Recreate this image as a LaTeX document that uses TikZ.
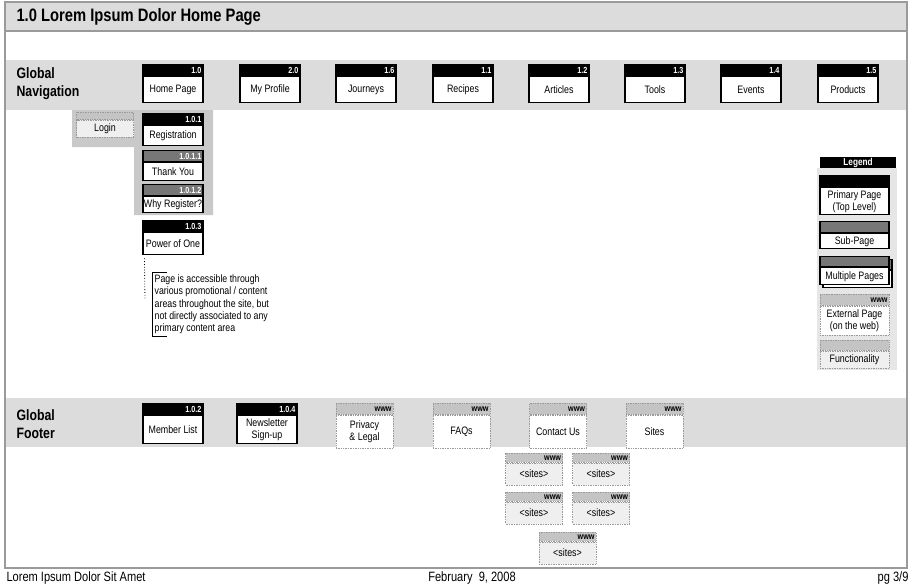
\documentclass[tikz,border=0pt]{standalone}
\usepackage{fontspec}
\setmainfont{Liberation Sans}[FakeStretch=0.82]

\definecolor{bandgray}{HTML}{DCDCDC}
\definecolor{framegray}{HTML}{9A9A9A}
\definecolor{grpgray}{HTML}{C9C9C9}
\definecolor{subgray}{HTML}{777777}
\definecolor{wwwgray}{HTML}{C4C4C4}
\definecolor{softgray}{HTML}{EFEFEF}
\definecolor{lgndgray}{HTML}{E6E6E6}

\tikzset{
  hd/.style={rectangle, inner sep=0pt, minimum width=60pt, text width=57pt, align=right,
    minimum height=11pt, font=\bfseries\fontsize{8.8}{9}\selectfont, text=white},
  bd/.style={rectangle, draw, line width=1.2pt, fill=white, inner sep=0pt, minimum width=60pt,
    align=center, font=\fontsize{10.8}{12}\selectfont},
  prim/.style={fill=black, draw=black, line width=1.2pt},
  sub/.style={fill=subgray, draw=black, line width=1.2pt},
  web/.style={fill=wwwgray, draw=framegray, line width=0.7pt, densely dotted, text=black,
    minimum width=57pt, text width=54pt},
  webbd/.style={draw=framegray, line width=0.7pt, densely dotted, minimum width=57pt},
  sect/.style={anchor=west, align=left, font=\bfseries\fontsize{15}{18}\selectfont},
  foot/.style={font=\fontsize{13.5}{15}\selectfont},
}

% page box: name, top centre, header style, number, body style, text
\newcommand{\pg}[6]{%
  \node[hd, #3, anchor=north] (#1h) at (#2) {#4};
  \node[bd, #5, anchor=north] (#1) at (#1h.south) {#6};}

\begin{document}
\begin{tikzpicture}[x=1pt, y=-1pt]
  \useasboundingbox (0,0) rectangle (913,587);

  % frame, title and bands
  \fill[bandgray] (5,2) rectangle (907,31);
  \fill[bandgray] (6,60) rectangle (906,110);
  \fill[bandgray] (6,398) rectangle (906,447);
  \draw[framegray, line width=2pt] (5,2) rectangle (907,568);
  \draw[framegray, line width=2pt] (5,31) -- (907,31);
  \node[anchor=west, font=\bfseries\fontsize{18}{20}\selectfont] (title) at (13,17) {1.0 Lorem Ipsum Dolor Home Page};

  % global navigation
  \node[sect] (gnav) at (13,84) {Global\\Navigation};
  \foreach \x/\num/\txt/\nm in {173/1.0/Home Page/home, 270/2.0/My Profile/profile,
      366/1.6/Journeys/journeys, 463/1.1/Recipes/recipes, 559/1.2/Articles/articles,
      655/1.3/Tools/tools, 751/1.4/Events/events, 848/1.5/Products/products}
    \pg{\nm}{\x,64}{prim}{\num}{minimum height=26pt}{\txt};

  % login / registration group
  \fill[grpgray] (72,110) -- (213,110) -- (213,215) -- (134,215) -- (134,147) -- (72,147) -- cycle;
  \pg{login}{105,112}{web, minimum height=7pt}{}{webbd, fill=softgray, minimum height=17pt}{Login};
  \pg{reg}{173,113}{prim}{1.0.1}{minimum height=20pt}{Registration};
  \pg{thanks}{173,150}{sub}{1.0.1.1}{minimum height=18pt}{Thank You};
  \pg{why}{173,184}{sub}{1.0.1.2}{minimum height=16pt}{Why Register?};
  \pg{pone}{173,220}{prim}{1.0.3}{minimum height=22pt}{Power of One};

  % note on power of one
  \node[anchor=north west, align=left, inner sep=2.5pt, font=\fontsize{10.7}{12.3}\selectfont] (note) at (152,272)
    {Page is accessible through\\various promotional / content\\areas throughout the site, but\\not directly associated to any\\primary content area};
  \draw[line width=0.8pt] ([xshift=15pt]note.north west) -- (note.north west) -- (note.south west) -- ([xshift=15pt]note.south west);
  \coordinate (notept) at (145,300);
  \draw[dotted, line width=0.8pt] ([xshift=2pt,yshift=-3pt]pone.south west) -- (notept);

  % legend
  \fill[lgndgray] (817,168) rectangle (897,370);
  \node[fill=black, text=white, minimum width=76pt, minimum height=11pt, inner sep=0pt,
    font=\bfseries\fontsize{10}{10}\selectfont] (legend) at (858,162.5) {Legend};
  \begin{scope}[hd/.append style={minimum width=69pt, text width=66pt},
      bd/.append style={minimum width=69pt}, web/.append style={minimum width=69pt, text width=66pt},
      webbd/.append style={minimum width=69pt}]
    \pg{lprim}{854.5,175}{prim}{}{minimum height=27pt}{Primary Page\\(Top Level)};
    \pg{lsub}{854.5,221}{sub}{}{minimum height=15pt}{Sub-Page};
    \pg{lmultib}{857.5,259}{sub, minimum height=10pt}{}{minimum height=17pt}{};
    \pg{lmulti}{854.5,256}{sub, minimum height=10pt}{}{minimum height=17pt}{Multiple Pages};
    \pg{lweb}{854.5,294}{web}{www}{webbd, minimum height=29pt}{External Page\\(on the web)};
    \pg{lfunc}{854.5,340}{web, minimum height=10pt}{}{webbd, fill=softgray, minimum height=17pt}{Functionality};
  \end{scope}

  % global footer
  \node[sect] (gfoot) at (13,424) {Global\\Footer};
  \pg{members}{173,403}{prim}{1.0.2}{minimum height=28pt}{Member List};
  \pg{news}{267,403}{prim}{1.0.4}{minimum height=28pt}{Newsletter\\Sign-up};
  \pg{privacy}{364.5,403}{web}{www}{webbd, minimum height=33pt}{Privacy\\\& Legal};
  \pg{faqs}{461.5,403}{web}{www}{webbd, minimum height=33pt}{FAQs};
  \pg{contact}{558,403}{web}{www}{webbd, minimum height=33pt}{Contact Us};
  \pg{sites}{654.5,403}{web}{www}{webbd, minimum height=33pt}{Sites};

  % external sites
  \foreach \x/\y/\nm in {534/453/sa, 601/453/sb, 534/492/sc, 601/492/sd, 567.5/532/se}
    \pg{\nm}{\x,\y}{web, minimum height=9pt}{www}{webbd, fill=softgray, minimum height=22pt}{<sites>};

  % page footer
  \node[foot, anchor=west] (foottxt) at (3,578) {Lorem Ipsum Dolor Sit Amet};
  \node[foot] (date) at (472,578) {February\ \ 9, 2008};
  \node[foot, anchor=east] (pgno) at (912,578) {pg 3/9};
\end{tikzpicture}
\end{document}
